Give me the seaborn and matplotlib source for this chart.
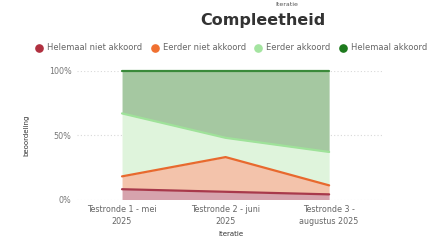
import numpy as np
import pandas as pd
import seaborn as sns
import matplotlib.pyplot as plt

# Data (aandeel per categorie, in %)
iteraties = ['Testronde 1 - mei\n2025', 'Testronde 2 - juni\n2025', 'Testronde 3 -\naugustus 2025']
categorieen = ['Helemaal niet akkoord', 'Eerder niet akkoord', 'Eerder akkoord', 'Helemaal akkoord']
helemaal_niet = [8, 6, 4]
eerder_niet = [10, 27, 7]
eerder_akkoord = [49, 15, 26]
helemaal_akkoord = [33, 52, 63]

lijn_kleuren = ['#a8394b', '#e8692e', '#9fe29a', '#3a8a3a']
vul_kleuren = ['#d6a3ad', '#f3c3ab', '#dff4dc', '#a5c8a1']
legend_kleuren = ['#b0303f', '#f07030', '#a4e4a0', '#1d7a1d']

df = pd.DataFrame({
    'x': range(len(iteraties)),
    categorieen[0]: helemaal_niet,
    categorieen[1]: eerder_niet,
    categorieen[2]: eerder_akkoord,
    categorieen[3]: helemaal_akkoord,
})
waarden = df[categorieen].to_numpy(dtype=float)
waarden = waarden / waarden.sum(axis=1, keepdims=True)
cum = np.cumsum(waarden, axis=1)

sns.set_style('white')
plt.rcParams['font.family'] = ['DejaVu Sans']

fig = plt.figure(figsize=(4.36, 2.46), dpi=100)
ax = fig.add_axes([77 / 436, 46.5 / 246, 307 / 436, 128.5 / 246])

onder = np.zeros(len(df))
for i, cat in enumerate(categorieen):
    boven = cum[:, i]
    ax.fill_between(df['x'], onder, boven, color=vul_kleuren[i], lw=0, zorder=2)
    sns.lineplot(x=df['x'], y=boven, ax=ax, color=lijn_kleuren[i], lw=1.6, zorder=3, clip_on=False)
    onder = boven

ax.set_xlim(-0.435, 2.53)
ax.set_ylim(0, 1)
ax.set_yticks([0, 0.5, 1])
ax.set_yticklabels(['0%', '50%', '100%'], color='#777777', fontsize=5.8)
ax.set_xticks(df['x'])
ax.set_xticklabels(iteraties, color='#666666', fontsize=5.8, linespacing=1.4)
ax.tick_params(length=0, pad=4)
ax.yaxis.grid(True, color='#d8d8d8', ls=(0, (1, 2)), lw=0.8, zorder=0)
ax.xaxis.grid(False)
for s in ax.spines.values():
    s.set_visible(False)
ax.set_ylabel('beoordeling', fontsize=5, color='#333333', labelpad=14)
ax.set_xlabel('Iteratie', fontsize=5, color='#333333', labelpad=4)

fig.text(287 / 436, 1 - 4 / 246, 'Iteratie', fontsize=4.5, color='#555555', ha='center', va='center')
fig.text(263 / 436, 1 - 21 / 246, 'Compleetheid', fontsize=11.5, fontweight='bold', color='#333333',
         ha='center', va='center')

# legenda
handles = [plt.Line2D([], [], marker='o', ls='', color=c, markersize=5.2) for c in legend_kleuren]
fig.legend(handles, categorieen, loc='center', bbox_to_anchor=(229 / 436, 1 - 48 / 246), ncol=4,
           frameon=False, fontsize=6.0, handletextpad=0.0, columnspacing=0.45,
           labelcolor='#666666', borderaxespad=0, borderpad=0)

fig.savefig('out.png', dpi=100)
